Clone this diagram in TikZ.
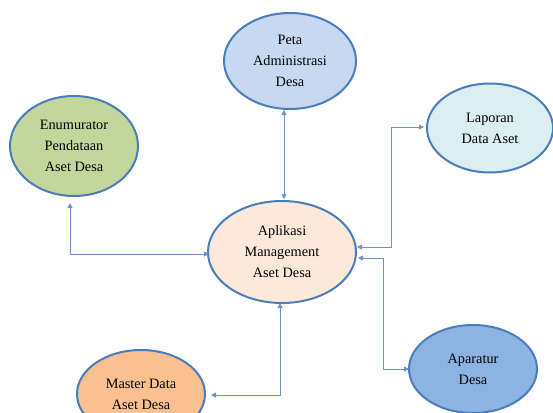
\documentclass[tikz,border=0pt]{standalone}
\usepackage{fontspec}
\setmainfont{Liberation Serif}
\usetikzlibrary{shapes.geometric,arrows.meta}
\definecolor{edgeblue}{HTML}{4A7EBB}
\definecolor{linkblue}{HTML}{6E93C8}
\definecolor{petafill}{HTML}{C6D9F1}
\definecolor{enumfill}{HTML}{C3D69B}
\definecolor{lapfill}{HTML}{DBEEF4}
\definecolor{appfill}{HTML}{FDE9D9}
\definecolor{aparfill}{HTML}{8DB3E2}
\definecolor{mastfill}{HTML}{FAC090}
\tikzset{
  x=1pt, y=-1pt,
  bubble/.style={ellipse, draw=edgeblue, line width=2pt, inner sep=0pt,
    align=center, font=\fontsize{14.3}{21}\selectfont, text=black},
  link2/.style={draw=linkblue, line width=0.8pt,
    arrows={Triangle[width=5pt,length=5pt]-Triangle[width=5pt,length=5pt]}}
}
\begin{document}
\begin{tikzpicture}
\useasboundingbox (0,0) rectangle (553,412);
\node[bubble, fill=petafill, minimum width=132pt, minimum height=96pt] (peta) at (290,61) {Peta\\Administrasi\\Desa};
\node[bubble, fill=enumfill, minimum width=128pt, minimum height=100pt] (enum) at (74,146) {Enumurator\\Pendataan\\Aset Desa};
\node[bubble, fill=lapfill, minimum width=126pt, minimum height=89pt] (lap) at (490,128) {Laporan\\Data Aset};
\node[bubble, fill=appfill, minimum width=148pt, minimum height=102pt] (app) at (282,252) {Aplikasi\\Management\\Aset Desa};
\node[bubble, fill=aparfill, minimum width=128pt, minimum height=88pt] (apar) at (473,369) {Aparatur\\Desa};
\node[bubble, fill=mastfill, minimum width=128pt, minimum height=88pt] (mast) at (141,394) {Master Data\\Aset Desa};
% connectors
\coordinate (pa) at (284,110);
\coordinate (pb) at (284,199);
\draw[link2] (pa) -- (pb);
\coordinate (e1) at (70,203);
\coordinate (e2) at (70,254);
\coordinate (e3) at (209,254);
\draw[link2] (e1) -- (e2) -- (e3);
\coordinate (l1) at (357,247);
\coordinate (l2) at (391,247);
\coordinate (l3) at (391,127);
\coordinate (l4) at (424,127);
\draw[link2] (l1) -- (l2) -- (l3) -- (l4);
\coordinate (a1) at (358,258);
\coordinate (a2) at (383,258);
\coordinate (a3) at (383,369);
\coordinate (a4) at (409,369);
\draw[link2] (a1) -- (a2) -- (a3) -- (a4);
\coordinate (m1) at (280,303);
\coordinate (m2) at (280,395);
\coordinate (m3) at (211,395);
\draw[link2] (m1) -- (m2) -- (m3);
\end{tikzpicture}
\end{document}
